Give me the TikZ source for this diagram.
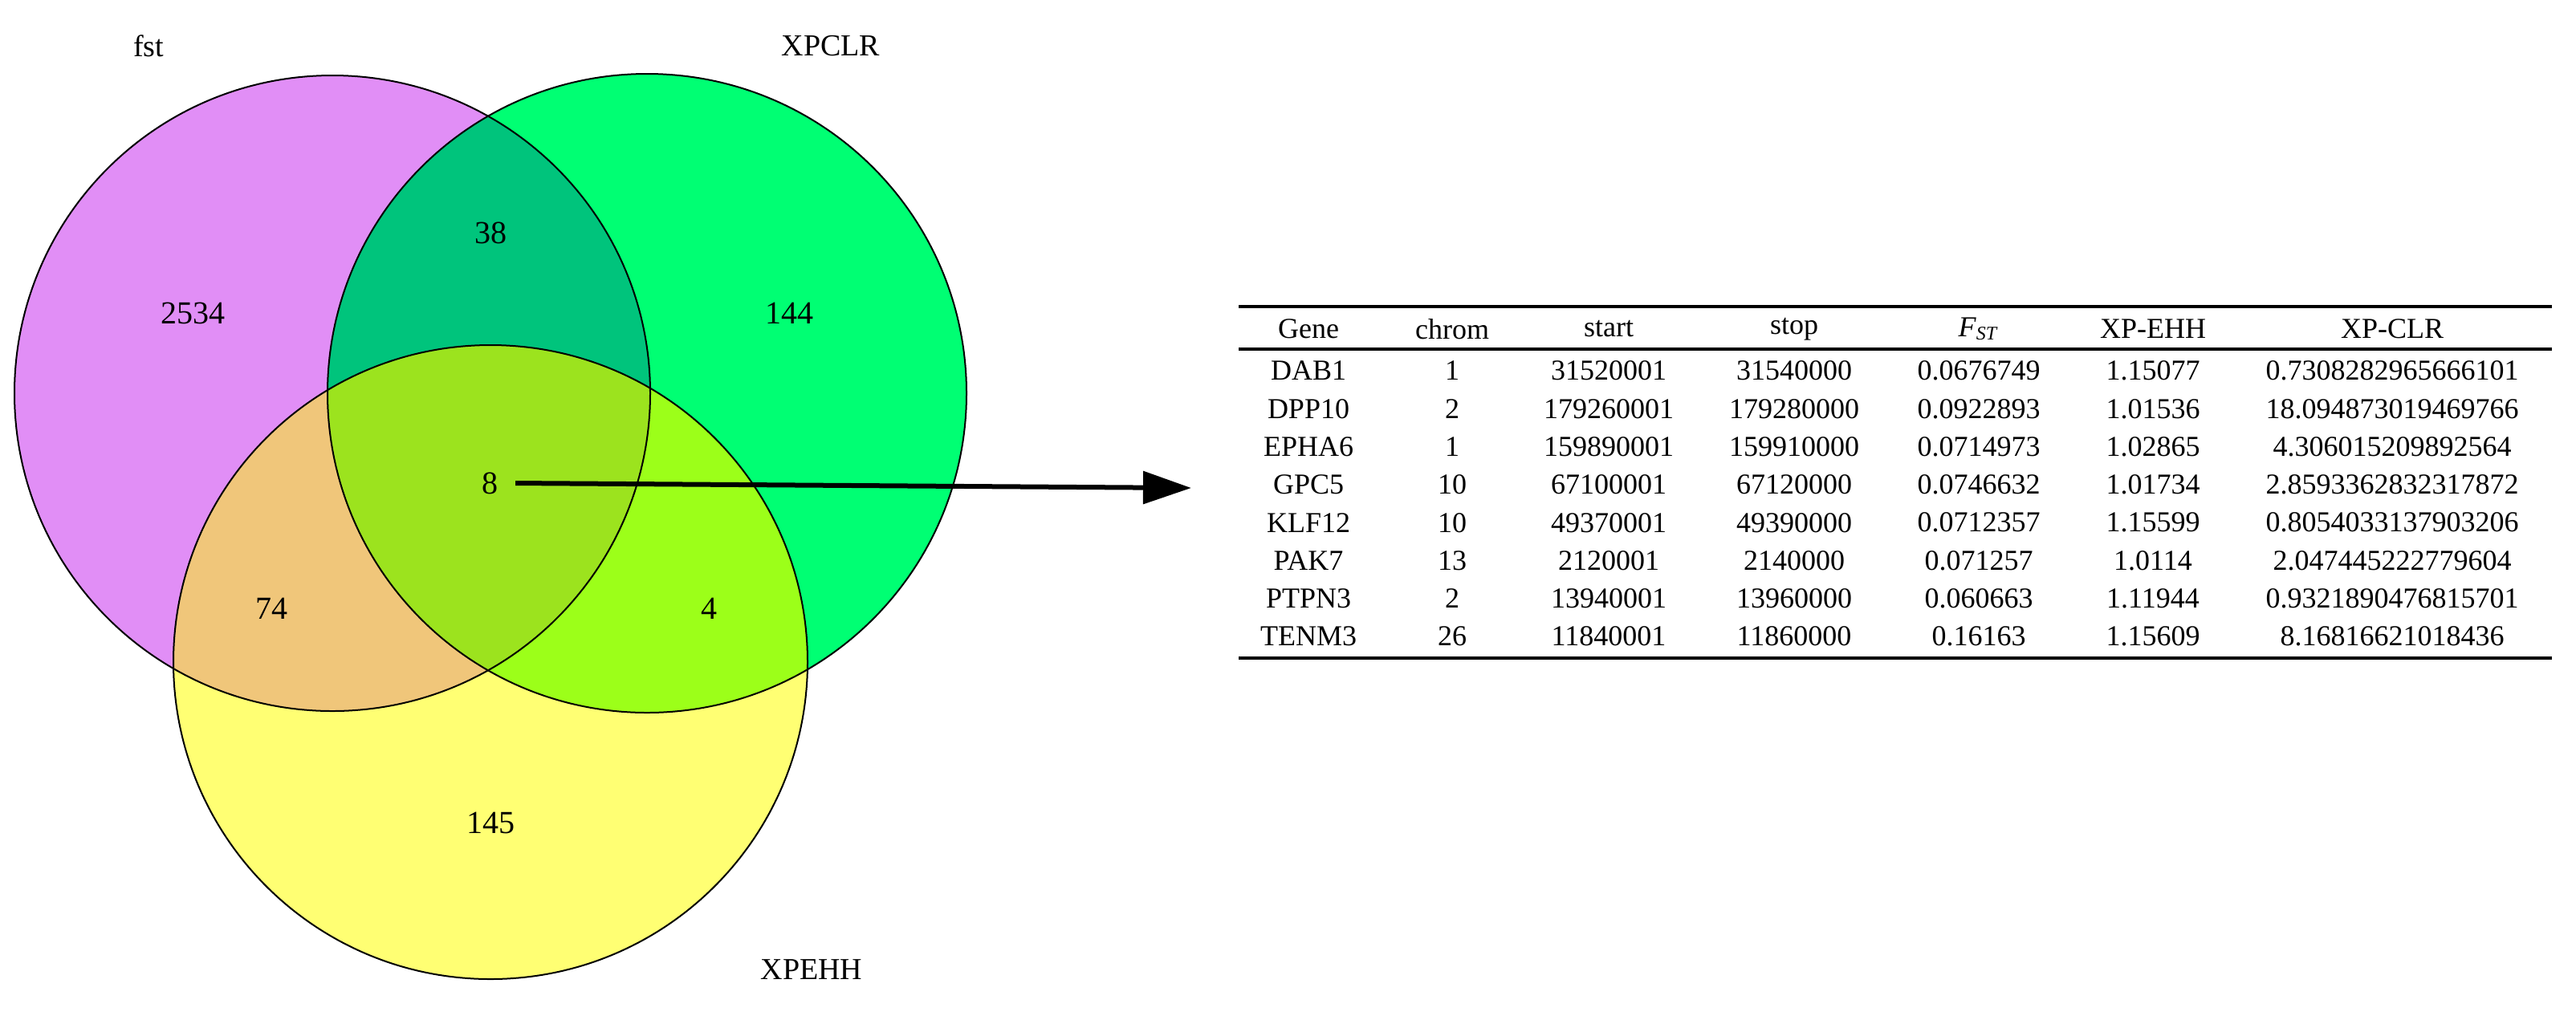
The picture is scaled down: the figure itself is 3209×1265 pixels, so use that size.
\documentclass[tikz,border=0pt]{standalone}
\usepackage{fontspec}
\setmainfont{Liberation Serif}
\usetikzlibrary{arrows.meta}
\definecolor{cP}{HTML}{E18EF6}
\definecolor{cG}{HTML}{00FF73}
\definecolor{cY}{HTML}{FFFF73}
\definecolor{cPG}{HTML}{00C47C}
\definecolor{cPY}{HTML}{F0C67A}
\definecolor{cGY}{HTML}{9CFF19}
\definecolor{cPGY}{HTML}{9CE31E}
\begin{document}
\begin{tikzpicture}[x=0.25pt,y=-0.25pt,
  num/.style={font=\fontsize{10}{12}\selectfont},
  lab/.style={font=\fontsize{9.5}{11}\selectfont},
  cell/.style={font=\fontsize{9}{10}\selectfont,inner sep=0pt},
  rcell/.style={cell,anchor=east},
  rule/.style={line width=1.1pt}]
\useasboundingbox (0,0) rectangle (3209,1265);
\def\P{(414,490) circle [radius=396]}
\def\G{(806,490) circle [radius=398]}
\def\Y{(611,825) circle [radius=395]}
\fill[cP] \P; \fill[cG] \G; \fill[cY] \Y;
\begin{scope}\clip \P; \fill[cPG] \G; \fill[cPY] \Y; \end{scope}
\begin{scope}\clip \G; \fill[cGY] \Y; \end{scope}
\begin{scope}\clip \P; \clip \G; \fill[cPGY] \Y; \end{scope}
\draw[line width=0.5pt] \P; \draw[line width=0.5pt] \G; \draw[line width=0.5pt] \Y;
\node[lab] (lf) at (185,57) {fst};
\node[lab] (lx) at (1035,57) {XPCLR};
\node[lab] (le) at (1011,1208) {XPEHH};
\node[num] (n2534) at (240,390) {2534};
\node[num] (n38) at (611,290) {38};
\node[num] (n144) at (983,390) {144};
\node[num] (n8) at (610,602) {8};
\node[num] (n74) at (338,758) {74};
\node[num] (n4) at (883,758) {4};
\node[num] (n145) at (611,1025) {145};
\coordinate (tip) at (1484,608);
\draw[line width=1.5pt,-{Triangle[length=15pt,width=10pt]}] (n8.east)+(8,0) -- (tip);
% table
\draw[rule] (1543,382) -- (3179,382);
\draw[rule] (1543,435) -- (3179,435);
\draw[rule] (1543,820) -- (3179,820);
\foreach \x/\t in {1630/Gene,1809/chrom,2004/start,2235/stop,2465/{\textit{F}\textsubscript{\textit{ST}}},2682/XP-EHH,2980/XP-CLR}
  \node[cell] at (\x,410) {\t};
\foreach \i/\g/\c/\s/\e/\f/\h/\l in {
 0/DAB1/1/31520001/31540000/0.0676749/1.15077/0.7308282965666101,
 1/DPP10/2/179260001/179280000/0.0922893/1.01536/18.094873019469766,
 2/EPHA6/1/159890001/159910000/0.0714973/1.02865/4.306015209892564,
 3/GPC5/10/67100001/67120000/0.0746632/1.01734/2.8593362832317872,
 4/KLF12/10/49370001/49390000/0.0712357/1.15599/0.8054033137903206,
 5/PAK7/13/2120001/2140000/0.071257/1.0114/2.047445222779604,
 6/PTPN3/2/13940001/13960000/0.060663/1.11944/0.9321890476815701,
 7/TENM3/26/11840001/11860000/0.16163/1.15609/8.16816621018436}{
  \pgfmathsetmacro\yy{462+47.3*\i}
  \node[cell] at (1630,\yy) {\g};
  \node[cell] at (1809,\yy) {\c};
  \node[cell] at (2004,\yy) {\s};
  \node[cell] at (2235,\yy) {\e};
  \node[cell] at (2465,\yy) {\f};
  \node[cell] at (2682,\yy) {\h};
  \node[cell] at (2980,\yy) {\l};
}
\end{tikzpicture}
\end{document}
